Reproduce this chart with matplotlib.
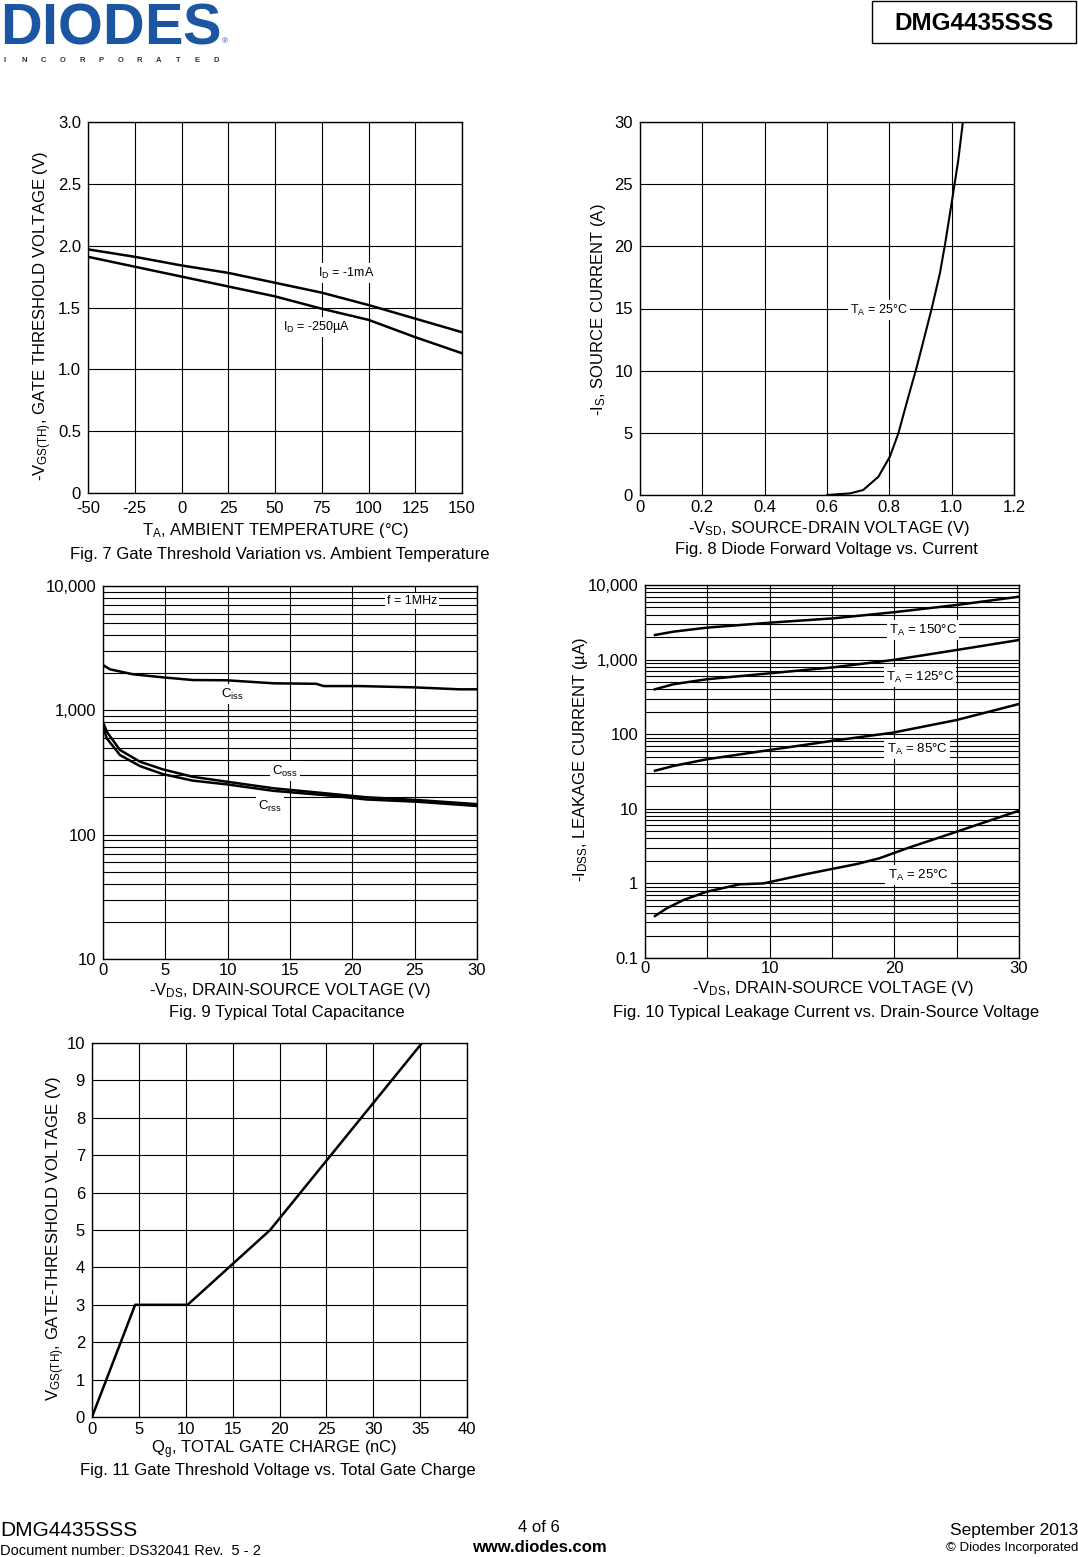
import numpy as np
import matplotlib
matplotlib.use('Agg')
import matplotlib.pyplot as plt
from matplotlib import font_manager as fm
from matplotlib.patches import Rectangle
from matplotlib.ticker import FixedLocator, FixedFormatter, NullFormatter

W, H, DPI = 1078, 1557, 100

plt.rcParams['font.family'] = ['Liberation Sans', 'DejaVu Sans']
plt.rcParams['mathtext.fontset'] = 'custom'
plt.rcParams['mathtext.rm'] = 'Liberation Sans'
plt.rcParams['mathtext.it'] = 'Liberation Sans:italic'
plt.rcParams['mathtext.bf'] = 'Liberation Sans:bold'
plt.rcParams['mathtext.default'] = 'regular'
plt.rcParams['axes.unicode_minus'] = False

_names = {f.name for f in fm.fontManager.ttflist}
NARROW = 'Liberation Sans Narrow' if 'Liberation Sans Narrow' in _names else 'Liberation Sans'

# ---------------- data ----------------
# Fig 7
fig7_temp = [-50, -25, 0, 25, 50, 75, 100, 125, 150]
fig7_vth_1mA = [1.97, 1.91, 1.84, 1.78, 1.70, 1.62, 1.52, 1.41, 1.30]
fig7_vth_250uA = [1.91, 1.83, 1.75, 1.67, 1.59, 1.49, 1.40, 1.26, 1.13]
fig7_xticks = [-50, -25, 0, 25, 50, 75, 100, 125, 150]
fig7_yticks = [0, 0.5, 1.0, 1.5, 2.0, 2.5, 3.0]
fig7_ylabels = ['0', '0.5', '1.0', '1.5', '2.0', '2.5', '3.0']

# Fig 8
fig8_vsd = [0.60, 0.674, 0.716, 0.765, 0.802, 0.829, 0.861, 0.888, 0.936, 0.962, 0.979, 1.0, 1.021, 1.037]
fig8_is = [0, 0.13, 0.4, 1.47, 3.1, 4.96, 7.9, 10.3, 15.0, 17.8, 20.2, 23.5, 26.9, 30.2]
fig8_xticks = [0, 0.2, 0.4, 0.6, 0.8, 1.0, 1.2]
fig8_xlabels = ['0', '0.2', '0.4', '0.6', '0.8', '1.0', '1.2']
fig8_yticks = [0, 5, 10, 15, 20, 25, 30]

# Fig 9
fig9_vds_ciss = [0, 0.56, 2.4, 4.8, 7.2, 9.9, 13.7, 17.1, 17.7, 20.6, 24.9, 28.6, 30]
fig9_ciss = [2313, 2137, 1950, 1842, 1753, 1745, 1649, 1635, 1567, 1567, 1531, 1476, 1476]
fig9_vds = [0, 0.3, 1.36, 2.97, 4.8, 7.2, 9.9, 13.7, 18.5, 21.1, 25.2, 30]
fig9_coss = [809, 673, 480, 386, 335, 292, 267, 236, 212, 200, 190, 176]
fig9_crss = [738, 596, 437, 356, 307, 272, 254, 225, 205, 192, 184, 170]
fig9_xticks = [0, 5, 10, 15, 20, 25, 30]
fig9_yticks = [10, 100, 1000, 10000]
fig9_ylabels = ['10', '100', '1,000', '10,000']

# Fig 10
fig10_vds = [0.8, 2.27, 4.95, 10, 15.1, 19.9, 25, 30]
fig10_150 = [2138, 2366, 2679, 3124, 3574, 4305, 5394, 6966]
fig10_125 = [400, 467, 545, 655, 788, 988, 1345, 1831]
fig10_85 = [32.4, 37.5, 46.1, 61.4, 81.8, 105, 155, 254]
fig10_vds_25 = [0.8, 1.74, 3.07, 4.95, 7.6, 9.5, 13.0, 17.0, 18.8, 21.0, 25, 30]
fig10_25 = [0.366, 0.463, 0.598, 0.774, 0.972, 1.0, 1.34, 1.82, 2.17, 2.95, 4.93, 9.44]
fig10_xgrid = [0, 5, 10, 15, 20, 25, 30]
fig10_xlabels = ['0', '', '10', '', '20', '', '30']
fig10_yticks = [0.1, 1, 10, 100, 1000, 10000]
fig10_ylabels = ['0.1', '1', '10', '100', '1,000', '10,000']

# Fig 11
fig11_qg = [0, 4.6, 10.2, 19.0, 35.2]
fig11_vgs = [0, 3, 3, 5, 10]
fig11_xticks = [0, 5, 10, 15, 20, 25, 30, 35, 40]
fig11_yticks = [0, 1, 2, 3, 4, 5, 6, 7, 8, 9, 10]

# ---------------- helpers ----------------
fig = plt.figure(figsize=(W / DPI, H / DPI), dpi=DPI)
fig.patch.set_facecolor('white')

TICK = 12
LAB = 12
CAP = 12


def fx(x):
    return x / W


def fy(y):
    return 1 - y / H


def add_ax(l, t, r, b, xpad=4, ypad=5):
    ax = fig.add_axes([l / W, 1 - b / H, (r - l) / W, (b - t) / H])
    for s in ax.spines.values():
        s.set_linewidth(1.0)
        s.set_color('black')
    ax.tick_params(which='both', length=0, labelsize=TICK, colors='black')
    ax.tick_params(axis='y', pad=ypad)
    ax.tick_params(axis='x', pad=xpad)
    ax.set_axisbelow(True)
    return ax


def grid(ax):
    ax.grid(True, which='both', color='black', linewidth=0.8)


def txt(x, y, s, size=LAB, **kw):
    kw.setdefault('ha', 'center')
    kw.setdefault('va', 'center')
    fig.text(fx(x), fy(y), s, fontsize=size, **kw)


def note(x, y, s, size=9):
    fig.text(fx(x), fy(y), s, fontsize=size, ha='center', va='center',
             bbox=dict(facecolor='white', edgecolor='none', pad=1.5), zorder=10)


LW = 1.8

# ---------------- header ----------------
fig.text(fx(0), fy(43.5), r'$\mathbf{DIODES}$', fontsize=41.5, color='#1c56a3',
         ha='left', va='baseline')
fig.text(fx(225), fy(42), '®', fontsize=6, color='#1c56a3', ha='center', va='center')
for i, ch in enumerate('INCORPORATED'):
    fig.text(fx(5 + i * 19.2), fy(56.5), ch, fontsize=5.5, fontweight='bold',
             color='#333333', ha='center', va='top')
fig.patches.append(Rectangle((fx(872), fy(43)), (1076 - 872) / W, 42 / H,
                             transform=fig.transFigure, fill=False,
                             edgecolor='black', linewidth=1.0))
txt(974, 23, 'DMG4435SSS', size=17.5, fontweight='bold')

# ---------------- Fig 7 ----------------
ax = add_ax(88, 122, 462, 493, xpad=6)
ax.plot(fig7_temp, fig7_vth_1mA, color='black', lw=LW)
ax.plot(fig7_temp, fig7_vth_250uA, color='black', lw=LW)
ax.set_xlim(-50, 150)
ax.set_ylim(0, 3)
ax.set_xticks(fig7_xticks)
ax.set_yticks(fig7_yticks)
ax.set_yticklabels(fig7_ylabels)
grid(ax)
note(346, 273, 'I$_{D}$ = -1mA')
note(317, 327, 'I$_{D}$ = -250µA')
txt(43, 316, '-V$_{GS(TH)}$, GATE THRESHOLD VOLTAGE (V)', rotation=90)
txt(276, 531, 'T$_{A}$, AMBIENT TEMPERATURE (°C)')
txt(280, 554, 'Fig. 7 Gate Threshold Variation vs. Ambient Temperature', size=CAP)

# ---------------- Fig 8 ----------------
ax = add_ax(640, 122, 1014, 495, xpad=3.5)
ax.plot(fig8_vsd, fig8_is, color='black', lw=1.5)
ax.set_xlim(0, 1.2)
ax.set_ylim(0, 30)
ax.set_xticks(fig8_xticks)
ax.set_xticklabels(fig8_xlabels)
ax.set_yticks(fig8_yticks)
grid(ax)
note(879, 310, 'T$_{A}$ = 25°C')
txt(598, 310, '-I$_{S}$, SOURCE CURRENT (A)', rotation=90)
txt(829, 528, '-V$_{SD}$, SOURCE-DRAIN VOLTAGE (V)')
txt(826, 550, 'Fig. 8 Diode Forward Voltage vs. Current', size=CAP)

# ---------------- Fig 9 ----------------
ax = add_ax(103, 586, 477, 959, xpad=3)
ax.set_yscale('log')
ax.plot(fig9_vds_ciss, fig9_ciss, color='black', lw=LW)
ax.plot(fig9_vds, fig9_coss, color='black', lw=LW)
ax.plot(fig9_vds, fig9_crss, color='black', lw=LW)
ax.set_xlim(0, 30)
ax.set_ylim(10, 10000)
ax.set_xticks(fig9_xticks)
ax.yaxis.set_major_locator(FixedLocator(fig9_yticks))
ax.yaxis.set_major_formatter(FixedFormatter(fig9_ylabels))
ax.yaxis.set_minor_locator(FixedLocator([m * 10 ** e for e in range(1, 4) for m in range(2, 10)]))
ax.yaxis.set_minor_formatter(NullFormatter())
grid(ax)
note(412, 601, 'f = 1MHz')
note(232, 694, 'C$_{iss}$', size=9.5)
note(285, 771, 'C$_{oss}$', size=9.5)
note(270, 806, 'C$_{rss}$', size=9.5)
txt(290, 990, '-V$_{DS}$, DRAIN-SOURCE VOLTAGE (V)')
txt(287, 1013, 'Fig. 9 Typical Total Capacitance', size=CAP)

# ---------------- Fig 10 ----------------
ax = add_ax(645, 585, 1019, 958, xpad=2)
ax.set_yscale('log')
ax.plot(fig10_vds, fig10_150, color='black', lw=LW)
ax.plot(fig10_vds, fig10_125, color='black', lw=LW)
ax.plot(fig10_vds, fig10_85, color='black', lw=LW)
ax.plot(fig10_vds_25, fig10_25, color='black', lw=LW)
ax.set_xlim(0, 30)
ax.set_ylim(0.1, 10000)
ax.set_xticks(fig10_xgrid)
ax.set_xticklabels(fig10_xlabels)
ax.yaxis.set_major_locator(FixedLocator(fig10_yticks))
ax.yaxis.set_major_formatter(FixedFormatter(fig10_ylabels))
ax.yaxis.set_minor_locator(FixedLocator([m * 10.0 ** e for e in range(-1, 4) for m in range(2, 10)]))
ax.yaxis.set_minor_formatter(NullFormatter())
grid(ax)
note(923, 630, 'T$_{A}$ = 150°C', size=9.5)
note(920, 677, 'T$_{A}$ = 125°C', size=9.5)
note(917, 749, 'T$_{A}$ = 85°C', size=9.5)
note(918, 875, 'T$_{A}$ = 25°C', size=9.5)
txt(581, 760, '-I$_{DSS}$, LEAKAGE CURRENT (µA)', rotation=90)
txt(833, 988, '-V$_{DS}$, DRAIN-SOURCE VOLTAGE (V)')
txt(826, 1012, 'Fig. 10 Typical Leakage Current vs. Drain-Source Voltage', size=CAP)

# ---------------- Fig 11 ----------------
ax = add_ax(92, 1043, 467, 1417, xpad=3.5)
ax.plot(fig11_qg, fig11_vgs, color='black', lw=LW)
ax.set_xlim(0, 40)
ax.set_ylim(0, 10)
ax.set_xticks(fig11_xticks)
ax.set_yticks(fig11_yticks)
grid(ax)
txt(56, 1238, 'V$_{GS(TH)}$, GATE-THRESHOLD VOLTAGE (V)', rotation=90)
txt(274, 1450, 'Q$_{g}$, TOTAL GATE CHARGE (nC)')
txt(278, 1471, 'Fig. 11 Gate Threshold Voltage vs. Total Gate Charge', size=CAP)

# ---------------- footer ----------------
fig.text(fx(0), fy(1530), 'DMG4435SSS', fontsize=15, family=NARROW, ha='left', va='center')
fig.text(fx(0), fy(1551), 'Document number: DS32041 Rev.  5 - 2', fontsize=10.5, family=NARROW,
         ha='left', va='center')
fig.text(fx(539), fy(1528), '4 of 6', fontsize=12, family=NARROW, ha='center', va='center')
fig.text(fx(539), fy(1548), 'www.diodes.com', fontsize=12, family=NARROW, fontweight='bold',
         ha='center', va='center')
fig.text(fx(1078), fy(1530), 'September 2013', fontsize=12.5, family=NARROW, ha='right', va='center')
fig.text(fx(1078), fy(1548), '© Diodes Incorporated', fontsize=9.5, family=NARROW, ha='right',
         va='center')

fig.savefig('out.png', dpi=DPI, facecolor='white')
